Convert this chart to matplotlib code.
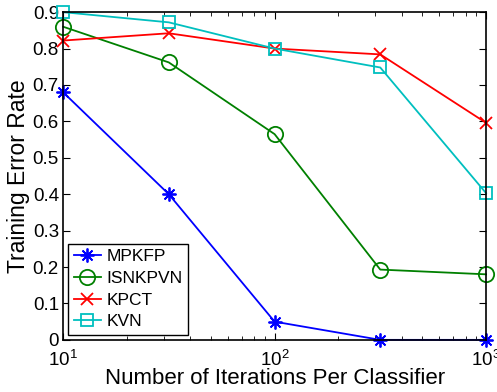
import numpy as np
import matplotlib
matplotlib.use("Agg")
import matplotlib.pyplot as plt

plt.rcParams['font.family'] = ['Liberation Sans', 'DejaVu Sans']

iterations = [10, 31.6, 100, 316, 1000]
mpkfp = [0.68, 0.40, 0.05, 0.0, 0.0]
isnkpvn = [0.86, 0.762, 0.565, 0.193, 0.18]
kpct = [0.822, 0.842, 0.80, 0.784, 0.596]
kvn = [0.90, 0.872, 0.80, 0.748, 0.403]

fig = plt.figure(figsize=(4.97, 3.92), dpi=100)
ax = fig.add_axes([0.127, 0.133, 0.851, 0.836])

ax.plot(iterations, mpkfp, color=(0, 0, 1), marker=(8, 2, 0), markersize=10,
        markeredgewidth=1.3, linewidth=1.3, label='MPKFP', clip_on=False)
ax.plot(iterations, isnkpvn, color=(0, 0.5, 0), marker='o', markersize=11,
        markerfacecolor='none', markeredgewidth=1.3, linewidth=1.3, label='ISNKPVN', clip_on=False)
ax.plot(iterations, kpct, color=(1, 0, 0), marker='x', markersize=9,
        markeredgewidth=1.3, linewidth=1.3, label='KPCT', clip_on=False)
ax.plot(iterations, kvn, color=(0, 0.75, 0.75), marker='s', markersize=9,
        markerfacecolor='none', markeredgewidth=1.3, linewidth=1.3, label='KVN', clip_on=False)

ax.set_xscale('log')
ax.set_xlim(10, 1000)
ax.set_ylim(0, 0.9)
ax.set_yticks(np.arange(0, 0.91, 0.1))
ax.set_yticklabels(['0', '0.1', '0.2', '0.3', '0.4', '0.5', '0.6', '0.7', '0.8', '0.9'])
ax.tick_params(which='both', direction='in', top=True, right=True, labelsize=13.5)
ax.tick_params(which='major', length=5)
ax.tick_params(which='minor', length=3)
ax.tick_params(axis='x', pad=7)
ax.tick_params(axis='y', pad=3)
for s in ax.spines.values():
    s.set_linewidth(1.2)

ax.set_xlabel('Number of Iterations Per Classifier', fontsize=16, labelpad=-1)
ax.set_ylabel('Training Error Rate', fontsize=16.5, labelpad=2)

leg = ax.legend(loc='lower left', fontsize=12.5, fancybox=False, framealpha=1,
                edgecolor='black', borderpad=0.3, labelspacing=0.38,
                handlelength=1.6, handletextpad=0.3, borderaxespad=0.3)
leg.get_frame().set_linewidth(1.0)

fig.savefig('out.png', dpi=100)
